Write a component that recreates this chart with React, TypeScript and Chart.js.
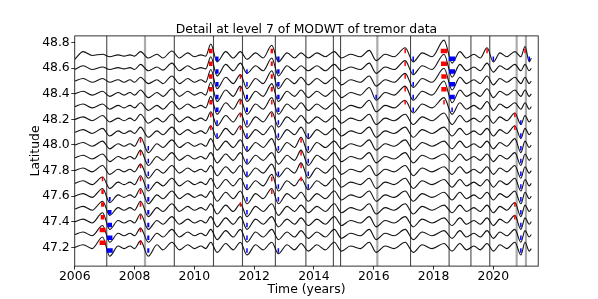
import React, { useEffect, useRef } from "react";
import { Chart, registerables } from "chart.js";
Chart.register(...registerables);

// Knot times (years) of alternating troughs/peaks of the level-7 detail
const knotYears = [
  2006.00, 2006.28, 2006.58, 2006.93, 2007.17, 2007.45, 2007.65, 2007.85, 2008.00,
  2008.20, 2008.46, 2008.75, 2008.95, 2009.25, 2009.50, 2009.78, 2010.00, 2010.22, 2010.38,
  2010.55, 2010.76, 2011.05, 2011.30, 2011.54, 2011.76, 2012.05, 2012.30, 2012.59, 2012.81,
  2013.10, 2013.35, 2013.57, 2013.81, 2014.10, 2014.38, 2014.68, 2014.92, 2015.22, 2015.55,
  2015.85, 2016.08, 2016.38, 2016.68, 2017.05, 2017.32, 2017.62, 2017.95, 2018.35, 2018.62,
  2018.88, 2019.10, 2019.35, 2019.56, 2019.79, 2020.00, 2020.22, 2020.45, 2020.72, 2020.92, 2021.06, 2021.20, 2021.27,
];

const latitudes = [48.7, 48.6, 48.5, 48.4, 48.3, 48.2, 48.1, 48.0, 47.9, 47.8, 47.7, 47.6, 47.5, 47.4, 47.3, 47.2];

// Detail values at the knots, in hundredths of a degree
const detail487 = [-3, 3, 0, 1, -1, 0.5, -0.5, 0.5, -0.5, 3, -2, 1, -2, 3.5, -2, 2, -1, 0.5, -0.5, 9, -5, 3, -2, 3, -3, 2, -2, 8, -5, 2, -2, 2, -2, 2, -1, 3, -2, 1, -1, 4, -4, 1, -1, 6, -5, 2, -1, 12, -6, 3, -2, 1, -2, 6, -5, 2, -1, 3, -1, 7, -5, -2];
const detail486 = [-1, 2, -1, 1, -1, 0.5, -0.5, 0.5, -1, 3, -2, 1, -1.5, 4, -2, 2, -1, 0.5, -0.5, 9, -6, 3, -2, 4, -4, 2, -2, 8, -6, 2, -2, 2, -2, 2, -2, 3, -2, 1, -1, 4, -4, 1, -1, 6, -5, 2, -1, 11, -7, 3, -2, 1, -2, 4, -3, 2, -1, 3, -2, 3, -2, 0];
const detail485 = [0, 2, -1, 2, -1, 1, -1, 1, -1, 3, -2, 1, -2, 4, -2, 2, -1, 1, -1, 9, -6, 3, -2, 5, -6, 2, -2, 8, -6, 2, -2, 3, -3, 2, -2, 3, -3, 1, -1, 4, -4, 1, -1, 6, -5, 2, -1, 10, -7, 3, -2, 1, -2, 4, -3, 2, -1, 3, -2, 3, -2, 0];
const detail484 = [0, 2, -1, 2, -2, 1, -1, 1, -1, 3, -3, 1, -2, 4, -2, 2, -1, 1, -1, 9, -6, 3, -2, 6, -6, 2, -2, 8, -6, 2, -2, 3, -3, 2, -2, 3, -3, 1, -1, 5, -5, 1, -1, 6, -5, 2, -1, 10, -7, 3, -2, 1, -2, 4, -3, 2, -1, 3, -2, 3, -2, 0];
const detail483 = [0, 2, -1, 2, -2, 1, -1, 1, -1, 3, -3, 1, -2, 4, -2, 2, -1, 1, -1, 8, -6, 3, -2, 6, -6, 2, -2, 7, -6, 2, -2, 3, -3, 2, -2, 3, -3, 1, -1, 5, -4, 1, -1, 5, -5, 2, -1, 7, -6, 3, -2, 1, -2, 4, -3, 2, -1, 3, -2, 3, -2, 0];
const detail482 = [0, 2, -1, 3, -2, 1, -1, 1, -1, 4, -3, 1, -2, 4, -2, 2, -1, 1, -1, 6, -5, 3, -2, 5, -6, 2, -2, 6, -6, 2, -2, 3, -3, 2, -2, 3, -3, 1, -1, 4, -4, 1, -1, 4, -4, 2, -1, 5, -4, 3, -2, 1, -2, 3, -3, 2, -1, 5, -4, 3, -2, 0];
const detail481 = [0, 2, -1, 3, -3, 1, -1, 1, -1, 4, -4, 1, -2, 4, -2, 2, -1, 1, -1, 5, -5, 3, -2, 5, -5, 2, -2, 5, -6, 2, -2, 4, -5, 2, -2, 3, -3, 1, -1, 4, -4, 1, -1, 4, -4, 2, -1, 4, -3, 3, -2, 1, -2, 3, -3, 2, -1, 5, -5, 3, -2, 0];
const detail480 = [0, 2, -1, 3, -3, 1, -1, 1, -1, 6, -6, 1, -2, 4, -2, 2, -1, 1, -1, 5, -4, 3, -2, 4, -5, 2, -2, 5, -6, 2, -2, 6, -6, 2, -2, 3, -3, 1, -1, 4, -4, 1, -1, 4, -4, 2, -1, 3, -3, 3, -2, 1, -2, 3, -3, 2, -1, 5, -6, 3, -2, 0];
const detail479 = [0, 2, -1, 3, -3, 1, -1, 1, -1, 6, -6, 1, -2, 4, -2, 2, -1, 1, -1, 4, -4, 3, -2, 4, -5, 2, -2, 4, -5, 2, -2, 6, -6, 2, -2, 4, -3, 1, -1, 4, -4, 1, -1, 4, -4, 2, -1, 3, -3, 3, -2, 1, -2, 3, -3, 2, -1, 4, -6, 3, -2, 0];
const detail478 = [0, 2, -1, 4, -3, 1, -1, 1, -1, 5, -6, 1, -2, 4, -2, 2, -1, 1, -1, 4, -4, 3, -2, 4, -5, 2, -2, 5, -5, 2, -2, 6, -6, 2, -2, 4, -3, 1, -1, 4, -4, 1, -1, 4, -4, 2, -1, 3, -3, 3, -2, 1, -2, 3, -3, 2, -1, 4, -6, 3, -2, 0];
const detail477 = [0, 2, -1, 5, -4, 1, -1, 1, -1, 6, -6, 1, -2, 4, -2, 2, -1, 1, -1, 4, -4, 3, -2, 4, -5, 2, -2, 7, -6, 2, -2, 4, -5, 2, -2, 4, -3, 1, -1, 4, -4, 1, -1, 4, -4, 2, -1, 3, -3, 3, -2, 1, -2, 3, -3, 2, -1, 4, -6, 3, -2, 0];
const detail476 = [0, 2, -1, 6, -5, 1, -1, 1, -1, 6, -6, 1, -2, 4, -2, 2, -1, 1, -1, 4, -4, 3, -2, 4, -6, 2, -2, 6, -6, 2, -2, 3, -4, 2, -2, 4, -3, 1, -1, 4, -4, 1, -1, 4, -4, 2, -1, 3, -3, 3, -2, 1, -2, 3, -3, 2, -1, 4, -6, 3, -2, 0];
const detail475 = [0, 2, -1, 6, -5, 1, -1, 1, -1, 6, -6, 1, -2, 4, -2, 2, -1, 1, -1, 4, -4, 3, -2, 4, -6, 2, -2, 4, -5, 2, -2, 3, -3, 2, -2, 4, -3, 1, -1, 4, -4, 1, -1, 4, -4, 2, -1, 3, -3, 3, -2, 1, -2, 3, -3, 2, -1, 5, -6, 3, -2, 0];
const detail474 = [0, 2, -1, 7, -6, 1, -1, 1, -1, 6, -6, 1, -2, 4, -2, 2, -1, 1, -1, 4, -4, 3, -2, 4, -6, 2, -2, 4, -4, 2, -2, 3, -3, 2, -2, 4, -3, 1, -1, 4, -4, 1, -1, 4, -4, 2, -1, 3, -3, 3, -2, 1, -2, 3, -3, 2, -1, 5, -6, 3, -2, 0];
const detail473 = [0, 2, -1, 7, -6, 1, -1, 1, -1, 5, -6, 1, -2, 4, -2, 2, -1, 1, -1, 4, -4, 3, -2, 4, -6, 2, -2, 4, -4, 2, -2, 3, -3, 2, -2, 4, -3, 1, -1, 4, -4, 1, -1, 4, -4, 2, -1, 3, -3, 3, -2, 1, -2, 3, -3, 2, -1, 4, -6, 3, -2, 0];
const detail472 = [0, 2, -1, 8, -7, 1, -1, 1, -1, 5, -7, 2, -2, 4, -2, 2, -1, 1, -1, 4, -4, 3, -2, 4, -6, 2, -2, 4, -5, 2, -2, 3, -3, 2, -2, 4, -3, 1, -1, 4, -4, 1, -1, 4, -4, 2, -1, 3, -3, 3, -2, 1, -2, 3, -3, 2, -1, 4, -6, 4, -3, -1];

const details = [detail487, detail486, detail485, detail484, detail483, detail482, detail481, detail480,
  detail479, detail478, detail477, detail476, detail475, detail474, detail473, detail472];

// Threshold exceedances: [line index, knot index, duration in years]
const peakMarks = [
  [10, 3, 0.03], [11, 3, 0.08], [12, 3, 0.1], [13, 3, 0.12], [14, 3, 0.2], [15, 3, 0.2],
  [7, 9, 0.05], [8, 9, 0.04], [9, 9, 0.02], [10, 9, 0.04], [11, 9, 0.06], [12, 9, 0.06], [13, 9, 0.05], [14, 9, 0.02], [15, 9, 0.02],
  [0, 19, 0.12], [1, 19, 0.12], [2, 19, 0.12], [3, 19, 0.12], [4, 19, 0.1], [5, 19, 0.05], [6, 19, 0.02],
  [2, 23, 0.03], [3, 23, 0.05], [4, 23, 0.06], [5, 23, 0.03], [6, 23, 0.02], [12, 23, 0.02],
  [0, 27, 0.08], [1, 27, 0.07], [2, 27, 0.07], [3, 27, 0.07], [4, 27, 0.05], [5, 27, 0.02], [10, 27, 0.05], [11, 27, 0.02],
  [7, 31, 0.04], [8, 31, 0.05], [9, 31, 0.05], [10, 31, 0.02],
  [0, 43, 0.05], [1, 43, 0.05], [2, 43, 0.05], [3, 43, 0.05], [4, 43, 0.03],
  [0, 47, 0.22], [1, 47, 0.2], [2, 47, 0.18], [3, 47, 0.18], [4, 47, 0.03],
  [0, 53, 0.05],
  [5, 57, 0.03], [6, 57, 0.03], [12, 57, 0.02], [13, 57, 0.02],
  [0, 59, 0.04],
];
const troughMarks = [
  [11, 4, 0.06], [12, 4, 0.12], [13, 4, 0.15], [14, 4, 0.18], [15, 4, 0.2],
  [7, 10, 0.02], [8, 10, 0.04], [9, 10, 0.05], [10, 10, 0.06], [11, 10, 0.07], [12, 10, 0.07], [13, 10, 0.07], [14, 10, 0.07], [15, 10, 0.07],
  [0, 20, 0.1], [1, 20, 0.1], [2, 20, 0.1], [3, 20, 0.1], [4, 20, 0.1], [5, 20, 0.05], [6, 20, 0.03],
  [1, 24, 0.02], [2, 24, 0.05], [3, 24, 0.07], [4, 24, 0.07], [5, 24, 0.05], [6, 24, 0.04], [7, 24, 0.03], [8, 24, 0.02],
  [9, 24, 0.02], [10, 24, 0.03], [11, 24, 0.04], [12, 24, 0.05], [13, 24, 0.05], [14, 24, 0.04], [15, 24, 0.05],
  [0, 28, 0.08], [1, 28, 0.08], [2, 28, 0.08], [3, 28, 0.08], [4, 28, 0.07], [5, 28, 0.05], [6, 28, 0.04], [7, 28, 0.03],
  [9, 28, 0.02], [10, 28, 0.05], [11, 28, 0.04], [15, 28, 0.04],
  [6, 32, 0.03], [7, 32, 0.05], [8, 32, 0.05], [9, 32, 0.05], [10, 32, 0.03],
  [3, 40, 0.02],
  [0, 44, 0.05], [1, 44, 0.05], [2, 44, 0.05], [3, 44, 0.05], [4, 44, 0.03],
  [0, 48, 0.22], [1, 48, 0.2], [2, 48, 0.2], [3, 48, 0.18], [4, 48, 0.03],
  [0, 54, 0.05],
  [5, 58, 0.03], [6, 58, 0.04], [7, 58, 0.05], [8, 58, 0.05], [9, 58, 0.05], [10, 58, 0.04], [11, 58, 0.05],
  [12, 58, 0.05], [13, 58, 0.05], [14, 58, 0.05], [15, 58, 0.04],
  [0, 60, 0.03],
];

// Event reference lines (years)
const darkEventYears = [2007.07, 2009.33, 2010.64, 2011.61, 2012.71, 2013.73, 2014.65, 2014.89, 2017.23, 2018.52, 2019.25, 2019.88];
const paleEventYears = [2008.35, 2016.12, 2020.78, 2021.09];

const xTickValues = [2006, 2008, 2010, 2012, 2014, 2016, 2018, 2020];
const yTickValues = [47.2, 47.4, 47.6, 47.8, 48.0, 48.2, 48.4, 48.6, 48.8];
const titleText = "Detail at level 7 of MODWT of tremor data";
const xLabel = "Time (years)";
const yLabel = "Latitude";

const FONT = '"DejaVu Sans", sans-serif';
const FONT_SIZE = 12.4;

function markSegments(marks: number[][], offset: number) {
  const pts: { x: number; y: number | null }[] = [];
  marks.forEach(([li, k, w]) => {
    const y = latitudes[li] + offset;
    const t = knotYears[k];
    const hw = Math.max(w, 0.05) / 2;
    pts.push({ x: t - hw, y }, { x: t + hw, y }, { x: t + hw, y: null });
  });
  return pts;
}

export default function App() {
  const ref = useRef<HTMLCanvasElement>(null);
  useEffect(() => {
    document.body.style.margin = "0";
    const canvas = ref.current!;
    const curveSets = latitudes.map((lat, i) => ({
      type: "line" as const,
      data: knotYears.map((t, k) => ({ x: t, y: lat + details[i][k] * 0.01 })),
      borderColor: "#111",
      borderWidth: 1.1,
      pointRadius: 0,
      cubicInterpolationMode: "monotone" as const,
      fill: false,
      order: 2,
    }));
    const markStyle = {
      type: "line" as const,
      borderWidth: 4.5,
      borderCapStyle: "butt" as const,
      pointRadius: 0,
      spanGaps: false,
      tension: 0,
      fill: false,
      order: 1,
    };
    const redSet = { ...markStyle, data: markSegments(peakMarks, 0.035), borderColor: "#ff0000" };
    const blueSet = { ...markStyle, data: markSegments(troughMarks, -0.025), borderColor: "#0000ff" };

    const eventPlugin = {
      id: "events",
      beforeDatasetsDraw(chart: any) {
        const { ctx, chartArea, scales } = chart;
        ctx.save();
        const vline = (t: number, color: string, w: number) => {
          const px = scales.x.getPixelForValue(t);
          ctx.strokeStyle = color;
          ctx.lineWidth = w;
          ctx.beginPath();
          ctx.moveTo(px, chartArea.top);
          ctx.lineTo(px, chartArea.bottom);
          ctx.stroke();
        };
        darkEventYears.forEach((t) => vline(t, "#4a4a4a", 1.1));
        paleEventYears.forEach((t) => vline(t, "#ababab", 2.2));
        ctx.restore();
      },
      afterDraw(chart: any) {
        const { ctx, chartArea } = chart;
        const { left, right, top, bottom } = chartArea;
        ctx.save();
        ctx.strokeStyle = "#000";
        ctx.lineWidth = 0.8;
        ctx.strokeRect(left, top, right - left, bottom - top);
        ctx.fillStyle = "#000";
        ctx.textAlign = "center";
        ctx.textBaseline = "alphabetic";
        ctx.font = `${FONT_SIZE}px ${FONT}`;
        ctx.fillText(titleText, (left + right) / 2, 32.7);
        ctx.fillText(xLabel, (left + right) / 2, 292.5);
        ctx.translate(38.5, (top + bottom) / 2);
        ctx.rotate(-Math.PI / 2);
        ctx.fillText(yLabel, 0, 0);
        ctx.restore();
      },
    };

    const tickFont = { family: FONT, size: FONT_SIZE };
    const tickGrid = { display: true, drawOnChartArea: false, drawTicks: true, tickLength: 3.5, tickColor: "#000", tickWidth: 0.8 };

    const chart = new Chart(canvas, {
      type: "line",
      data: { datasets: [redSet, blueSet, ...curveSets] as any },
      options: {
        animation: false,
        responsive: false,
        events: [],
        layout: { padding: { left: 0, top: 35.9, right: 59.8, bottom: 0 } },
        plugins: { legend: { display: false }, tooltip: { enabled: false }, title: { display: false } },
        scales: {
          x: {
            type: "linear",
            min: 2006,
            max: 2021.5,
            afterBuildTicks: (s: any) => { s.ticks = xTickValues.map((v) => ({ value: v })); },
            ticks: {
              autoSkip: false,
              maxRotation: 0,
              color: "#000",
              padding: -0.5,
              font: tickFont,
              callback: (v: any) => String(v),
            },
            grid: tickGrid,
            border: { display: false },
            afterFit: (s: any) => { s.height = 299 - 266.1; },
          },
          y: {
            type: "linear",
            min: 47.053,
            max: 48.853,
            afterBuildTicks: (s: any) => { s.ticks = yTickValues.map((v) => ({ value: v })); },
            ticks: {
              autoSkip: false,
              color: "#000",
              padding: 1.5,
              font: tickFont,
              callback: (v: any) => Number(v).toFixed(1),
            },
            grid: tickGrid,
            border: { display: false },
            afterFit: (s: any) => { s.width = 74.75; },
          },
        },
      } as any,
      plugins: [eventPlugin],
    });
    return () => chart.destroy();
  }, []);
  return (
    <canvas ref={ref} width={598} height={299} style={{ display: "block", width: 598, height: 299, position: "absolute", left: 0, top: 0 }} />
  );
}
